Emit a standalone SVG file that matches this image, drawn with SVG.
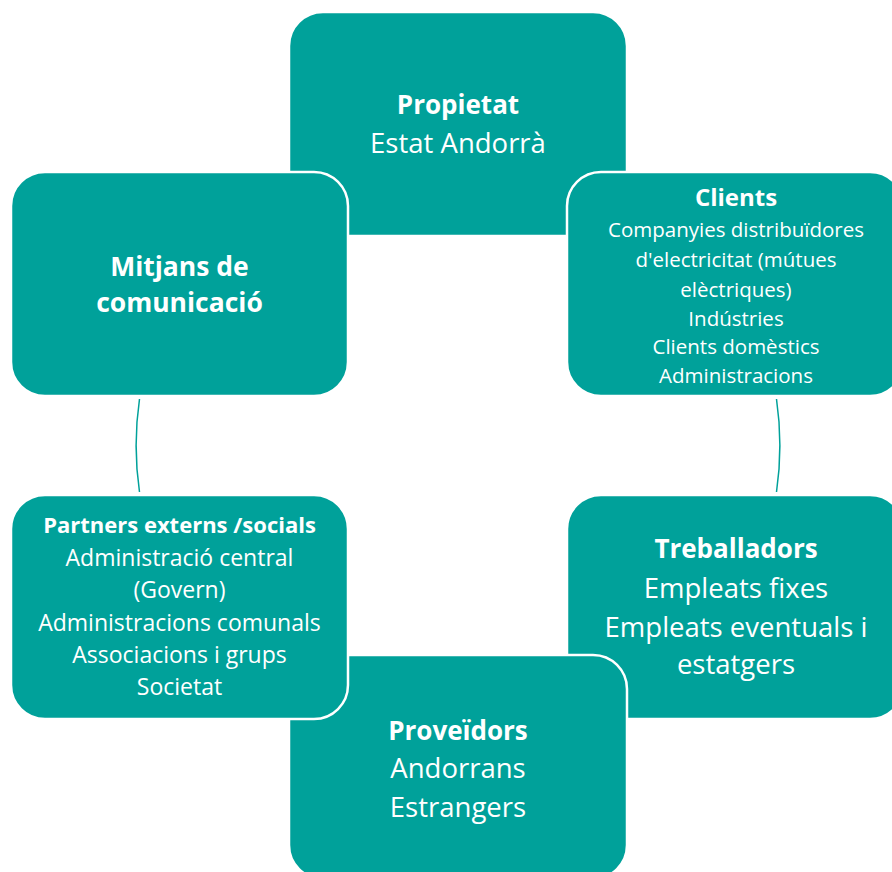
<svg xmlns="http://www.w3.org/2000/svg" width="892" height="872" viewBox="0 0 892 872">
  <style>
    .box { fill: #00A19A; stroke: #FFFFFF; stroke-width: 2.5; }
    .t { font-family: "Open Sans", "Noto Sans", "DejaVu Sans", sans-serif; fill: #FFFFFF; text-anchor: middle; }
    .b { font-weight: bold; }
    .conn { fill: none; stroke: #00A19A; stroke-width: 1.5; }
  </style>
  <rect width="892" height="872" fill="#FFFFFF"/>
  <g id="connectors">
    <path class="conn" d="M139.5,399 A322,322 0 0 0 139.5,492"/>
    <path class="conn" d="M776.5,399 A322,322 0 0 1 776.5,492"/>
  </g>
  <g id="propietat">
    <rect class="box" x="289" y="12" width="338" height="224" rx="34" ry="34"/>
    <text class="t b" x="458" y="114" font-size="26">Propietat</text>
    <text class="t" x="458" y="153" font-size="27.5">Estat Andorrà</text>
  </g>
  <g id="clients">
    <rect class="box" x="567" y="172" width="337" height="224" rx="34" ry="34"/>
    <text class="t b" x="736" y="206" font-size="24">Clients</text>
    <text class="t" x="736" y="237" font-size="20.5">Companyies distribuïdores</text>
    <text class="t" x="736" y="267" font-size="20.5">d'electricitat (mútues</text>
    <text class="t" x="736" y="297" font-size="20.5">elèctriques)</text>
    <text class="t" x="736" y="326" font-size="20.5">Indústries</text>
    <text class="t" x="736" y="354" font-size="20.5">Clients domèstics</text>
    <text class="t" x="736" y="383" font-size="20.5">Administracions</text>
  </g>
  <g id="treballadors">
    <rect class="box" x="567" y="495" width="337" height="224" rx="34" ry="34"/>
    <text class="t b" x="736" y="558" font-size="26">Treballadors</text>
    <text class="t" x="736" y="598" font-size="27.5">Empleats fixes</text>
    <text class="t" x="736" y="637" font-size="27.5">Empleats eventuals i</text>
    <text class="t" x="736" y="674" font-size="27.5">estatgers</text>
  </g>
  <g id="proveidors">
    <rect class="box" x="289" y="655" width="338" height="224" rx="34" ry="34"/>
    <text class="t b" x="458" y="740" font-size="26">Proveïdors</text>
    <text class="t" x="458" y="778" font-size="27.5">Andorrans</text>
    <text class="t" x="458" y="817" font-size="27.5">Estrangers</text>
  </g>
  <g id="partners">
    <rect class="box" x="11" y="495" width="337" height="224" rx="34" ry="34"/>
    <text class="t b" x="179.5" y="533" font-size="22">Partners externs /socials</text>
    <text class="t" x="179.5" y="566" font-size="23">Administració central</text>
    <text class="t" x="179.5" y="598" font-size="23">(Govern)</text>
    <text class="t" x="179.5" y="631" font-size="23">Administracions comunals</text>
    <text class="t" x="179.5" y="663" font-size="23">Associacions i grups</text>
    <text class="t" x="179.5" y="695" font-size="23">Societat</text>
  </g>
  <g id="mitjans">
    <rect class="box" x="11" y="172" width="337" height="224" rx="34" ry="34"/>
    <text class="t b" x="179.5" y="276" font-size="26.5">Mitjans de</text>
    <text class="t b" x="179.5" y="312" font-size="26.5">comunicació</text>
  </g>
</svg>
